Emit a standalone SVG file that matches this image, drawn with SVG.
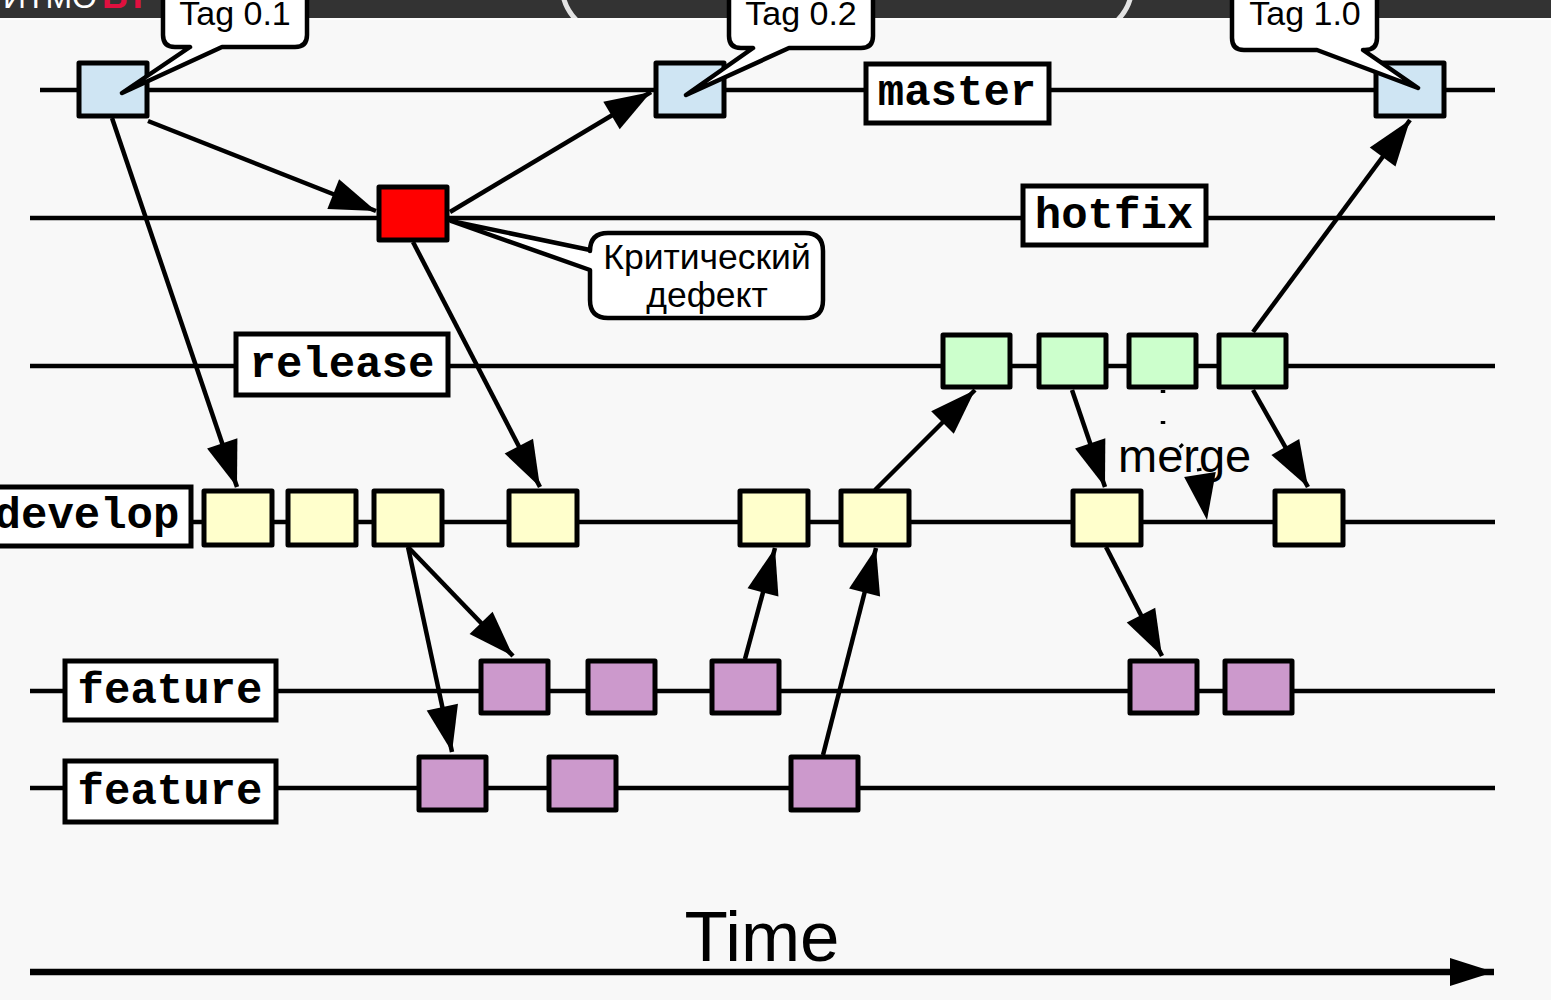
<svg xmlns="http://www.w3.org/2000/svg" width="1551" height="1000" viewBox="0 0 1551 1000">
<defs>
<style>
.lane{stroke:#000;stroke-width:4.5;fill:none}
.c{stroke:#000;stroke-width:4.5;fill:none}
.box{stroke:#000;stroke-width:5;stroke-linejoin:round}
.m{fill:#cfe5f3}.r{fill:#ff0000}.g{fill:#ccffcc}.y{fill:#ffffcc}.p{fill:#cc99cc}
.lab{fill:#fff;stroke:#000;stroke-width:5}
.lt{font-family:"Courier New","Nimbus Mono PS","Nimbus Mono L",FreeMono,Courier,"Liberation Mono",monospace;font-weight:bold;font-size:44px;text-anchor:middle;fill:#000}
.call{fill:#fff;stroke:#000;stroke-width:4.5;stroke-linejoin:round}
.ct{font-family:"Liberation Sans",Arial,sans-serif;font-size:34px;text-anchor:middle;fill:#000}
</style>
<marker id="ah" markerUnits="userSpaceOnUse" markerWidth="50" markerHeight="34" refX="46" refY="16" orient="auto" overflow="visible">
<path d="M0,0 L46,16 L0,32 Z" fill="#000"/>
</marker>
<marker id="th" markerUnits="userSpaceOnUse" markerWidth="46" markerHeight="32" refX="44" refY="14" orient="auto" overflow="visible">
<path d="M0,0 L44,14 L0,28 Z" fill="#000"/>
</marker>
<clipPath id="topclip"><rect x="0" y="0" width="1551" height="18"/></clipPath>
</defs>
<rect x="0" y="0" width="1551" height="1000" fill="#f8f8f8"/>
<g id="topbar">
<rect x="0" y="0" width="1551" height="18" fill="#333"/>
<rect x="0" y="18" width="1551" height="2" fill="#fdfdfd"/>
<g clip-path="url(#topclip)">
<text x="97" y="8" text-anchor="end" font-family="Liberation Sans,Arial,sans-serif" font-size="32" fill="#fff">ИТМО</text>
<text x="102" y="8" font-family="Liberation Sans,Arial,sans-serif" font-size="36" font-weight="bold" fill="#e0103f">ВТ</text>
<rect x="562" y="-80" width="570" height="115" rx="50" fill="none" stroke="#e4e4e4" stroke-width="5"/>
</g>
</g>
<g id="lanes">
<line class="lane" x1="40" y1="90" x2="1495" y2="90"/>
<line class="lane" x1="30" y1="218" x2="1495" y2="218"/>
<line class="lane" x1="30" y1="366" x2="1495" y2="366"/>
<line class="lane" x1="0" y1="522" x2="1495" y2="522"/>
<line class="lane" x1="30" y1="691" x2="1495" y2="691"/>
<line class="lane" x1="30" y1="788" x2="1495" y2="788"/>
</g>
<g id="connectors">
<line class="c" x1="112" y1="118" x2="237" y2="487" marker-end="url(#ah)"/>
<line class="c" x1="148" y1="121" x2="376" y2="211" marker-end="url(#ah)"/>
<line class="c" x1="450" y1="212" x2="651" y2="92" marker-end="url(#ah)"/>
<line class="c" x1="413" y1="242" x2="540" y2="487" marker-end="url(#ah)"/>
<line class="c" x1="408" y1="547" x2="513" y2="656" marker-end="url(#ah)"/>
<line class="c" x1="408" y1="547" x2="452" y2="752" marker-end="url(#ah)"/>
<line class="c" x1="745" y1="659" x2="775" y2="548" marker-end="url(#ah)"/>
<line class="c" x1="823" y1="755" x2="876" y2="548" marker-end="url(#ah)"/>
<line class="c" x1="875" y1="490" x2="975" y2="390" marker-end="url(#ah)"/>
<line class="c" x1="1072" y1="390" x2="1105" y2="487" marker-end="url(#ah)"/>
<polyline class="c" points="1163,390 1163,428 1198,462 1207,520" stroke-dasharray="3 28" marker-end="url(#ah)"/>
<line class="c" x1="1253" y1="390" x2="1308" y2="487" marker-end="url(#ah)"/>
<line class="c" x1="1253" y1="332" x2="1410" y2="120" marker-end="url(#ah)"/>
<line class="c" x1="1106" y1="547" x2="1162" y2="656" marker-end="url(#ah)"/>
</g>
<g id="master-commits">
<rect class="box m" x="79" y="63" width="68" height="53"/>
<rect class="box m" x="656" y="63" width="68" height="53"/>
<rect class="box m" x="1376" y="63" width="68" height="53"/>
</g>
<g id="hotfix-commit"><rect class="box r" x="379" y="187" width="68" height="53"/></g>
<g id="release-commits">
<rect class="box g" x="943" y="335" width="67" height="52"/>
<rect class="box g" x="1039" y="335" width="67" height="52"/>
<rect class="box g" x="1129" y="335" width="67" height="52"/>
<rect class="box g" x="1219" y="335" width="67" height="52"/>
</g>
<g id="develop-commits">
<rect class="box y" x="204" y="491" width="68" height="54"/>
<rect class="box y" x="288" y="491" width="68" height="54"/>
<rect class="box y" x="374" y="491" width="68" height="54"/>
<rect class="box y" x="509" y="491" width="68" height="54"/>
<rect class="box y" x="740" y="491" width="68" height="54"/>
<rect class="box y" x="841" y="491" width="68" height="54"/>
<rect class="box y" x="1073" y="491" width="68" height="54"/>
<rect class="box y" x="1275" y="491" width="68" height="54"/>
</g>
<g id="feature1-commits">
<rect class="box p" x="481" y="661" width="67" height="52"/>
<rect class="box p" x="588" y="661" width="67" height="52"/>
<rect class="box p" x="712" y="661" width="67" height="52"/>
<rect class="box p" x="1130" y="661" width="67" height="52"/>
<rect class="box p" x="1225" y="661" width="67" height="52"/>
</g>
<g id="feature2-commits">
<rect class="box p" x="419" y="757" width="67" height="53"/>
<rect class="box p" x="549" y="757" width="67" height="53"/>
<rect class="box p" x="791" y="757" width="67" height="53"/>
</g>
<g id="label-master"><rect class="lab" x="866" y="64" width="183" height="59"/><text class="lt" x="957" y="105">master</text></g>
<g id="label-hotfix"><rect class="lab" x="1023" y="186" width="183" height="59"/><text class="lt" x="1114" y="228">hotfix</text></g>
<g id="label-release"><rect class="lab" x="236" y="334" width="212" height="61"/><text class="lt" x="342" y="377">release</text></g>
<g id="label-develop"><rect class="lab" x="-10" y="487" width="201" height="59"/><text class="lt" x="87" y="528">develop</text></g>
<g id="label-feature1"><rect class="lab" x="65" y="661" width="211" height="59"/><text class="lt" x="170" y="703">feature</text></g>
<g id="label-feature2"><rect class="lab" x="65" y="761" width="211" height="61"/><text class="lt" x="170" y="804">feature</text></g>
<g id="tag01">
<path class="call" d="M175,-20 H295 Q307,-20 307,-8 V35 Q307,47 295,47 H222 L122,93 L190,47 H175 Q163,47 163,35 V-8 Q163,-20 175,-20 Z"/>
<text class="ct" x="235" y="25">Tag 0.1</text>
</g>
<g id="tag02">
<path class="call" d="M741,-20 H861 Q873,-20 873,-8 V36 Q873,48 861,48 H789 L686,95 L753,48 H741 Q729,48 729,36 V-8 Q729,-20 741,-20 Z"/>
<text class="ct" x="801" y="25">Tag 0.2</text>
</g>
<g id="tag10">
<path class="call" d="M1244,-20 H1365 Q1377,-20 1377,-8 V38 Q1377,50 1365,50 H1363 L1418,88 L1317,50 H1244 Q1232,50 1232,38 V-8 Q1232,-20 1244,-20 Z"/>
<text class="ct" x="1305" y="25">Tag 1.0</text>
</g>
<g id="defect-callout">
<path class="call" d="M608,233 H805 Q823,233 823,251 V300 Q823,318 805,318 H608 Q590,318 590,300 V270 L451,221 L590,250 V251 Q590,233 608,233 Z"/>
<text class="ct" x="707" y="269" font-size="35.5" style="font-size:35.5px">Критический</text>
<text class="ct" x="707" y="307" style="font-size:35.5px">дефект</text>
</g>
<g id="merge-label"><text x="1118" y="472" font-family="Liberation Sans,Arial,sans-serif" font-size="47" fill="#000">merge</text></g>
<g id="time-axis">
<line x1="30" y1="972" x2="1494" y2="972" stroke="#000" stroke-width="6.5" marker-end="url(#th)"/>
<text x="762" y="961" text-anchor="middle" font-family="Liberation Sans,Arial,sans-serif" font-size="71" fill="#000">Time</text>
</g>
</svg>
